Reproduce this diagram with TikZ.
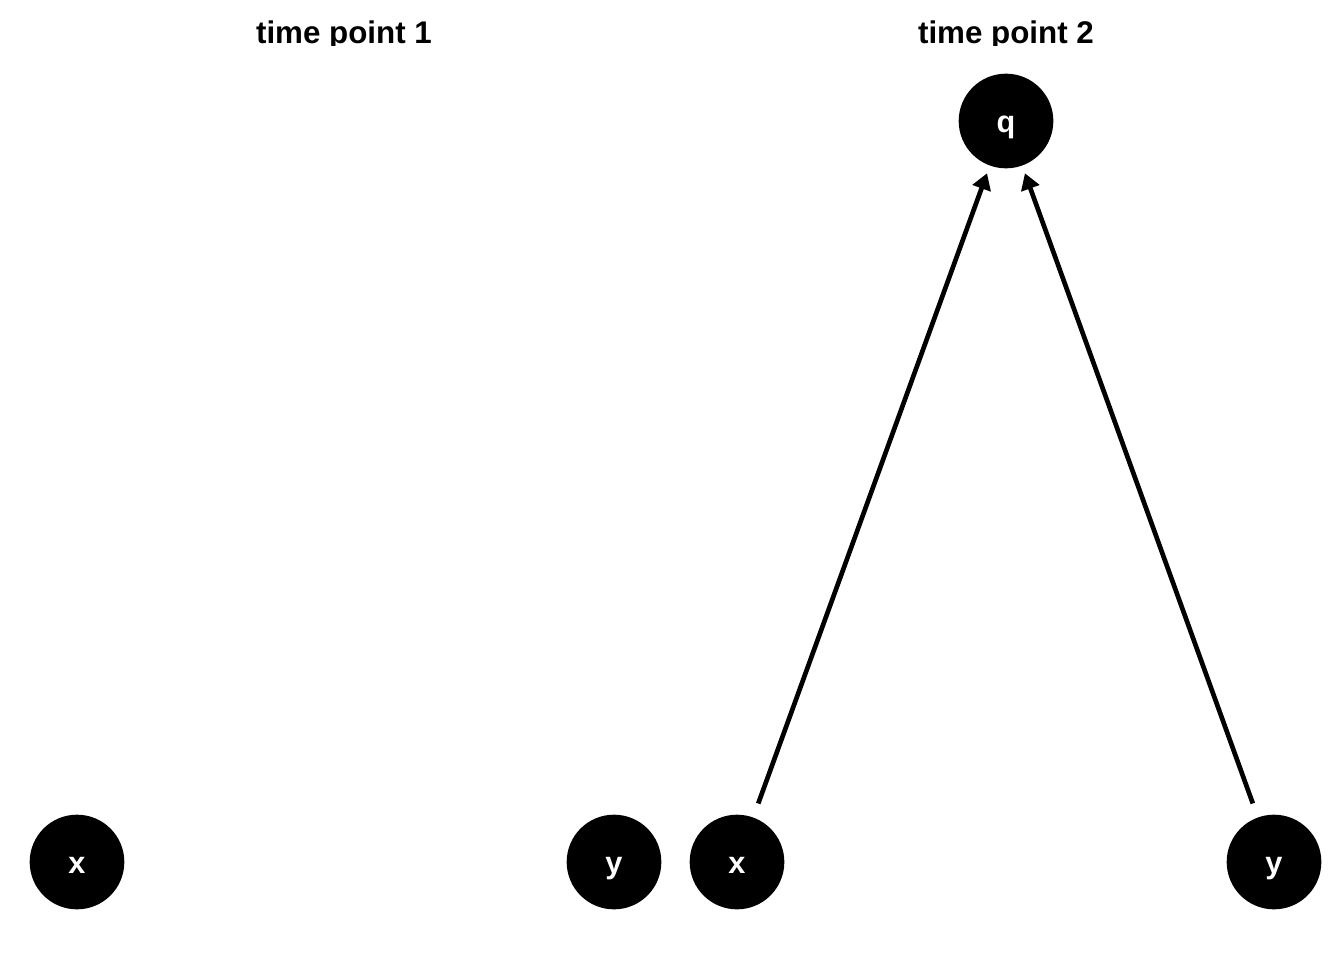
\documentclass[tikz,border=0pt]{standalone}
\usepackage{fontspec}
\setmainfont{Liberation Sans}
\usetikzlibrary{arrows.meta}
\begin{document}
\begin{tikzpicture}[x=0.75pt,y=-0.75pt,
  dagnode/.style={circle,fill=black,minimum size=71pt,inner sep=0pt,text=white,
    font=\fontsize{23}{27}\selectfont\bfseries,text height=16.5pt,text depth=0pt},
  title/.style={font=\fontsize{23.5}{28}\selectfont\bfseries,anchor=base},
  arr/.style={line width=3.5pt,-{Triangle[length=12pt,width=14pt]},shorten <=11pt,shorten >=6pt}]
\useasboundingbox[fill=white] (0,0) rectangle (1344,960);
\begin{scope}
\clip (0,0) rectangle (1344,45);
\node[title] (t1) at (344,43) {time point 1};
\node[title] (t2) at (1006,43) {time point 2};
\end{scope}
\node[dagnode] (x1) at (77,862) {x};
\node[dagnode] (y1) at (614,862) {y};
\node[dagnode] (x2) at (737,862) {x};
\node[dagnode] (y2) at (1274,862) {y};
\node[dagnode] (q) at (1006,121) {q};
\draw[arr] (x2) -- (q);
\draw[arr] (y2) -- (q);
\end{tikzpicture}
\end{document}
